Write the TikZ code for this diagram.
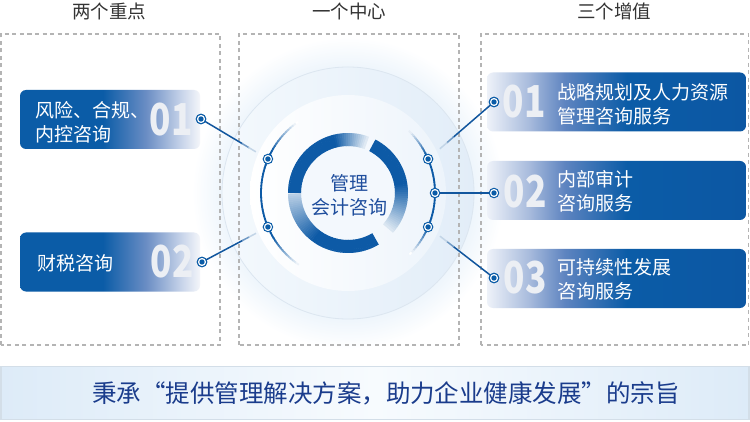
\documentclass[tikz,border=0pt]{standalone}
\usepackage{fontspec}
\setmainfont{Noto Sans CJK SC}
\usetikzlibrary{calc}
\definecolor{cB}{HTML}{0B5CA7}
\definecolor{cRing}{HTML}{0D5AA6}
\definecolor{cLine}{HTML}{11569E}
\definecolor{cMidL}{HTML}{6A8DC4}
\definecolor{cLiteL}{HTML}{C9D5EA}
\definecolor{cEnd}{HTML}{F4F6FA}
\definecolor{cR1}{HTML}{EEF2F9}
\definecolor{cR2}{HTML}{A9BCDD}
\definecolor{cR3}{HTML}{5E84C0}
\definecolor{cR4}{HTML}{0C57A3}
\definecolor{numc}{HTML}{ECEFF4}
\definecolor{glowc}{HTML}{EAF3FB}
\definecolor{diskL}{HTML}{F4F9FD}
\definecolor{diskR}{HTML}{E2EDF8}
\definecolor{thinc}{HTML}{DCE6F0}
\definecolor{innerR}{HTML}{EDF4FB}
\definecolor{coreC}{HTML}{F3F8FD}
\definecolor{ctext}{HTML}{1F4E9D}
\definecolor{btext}{HTML}{1A3C8C}
\definecolor{bedge}{HTML}{DDEBF8}
\definecolor{bmid}{HTML}{F7FBFE}
\definecolor{bborder}{HTML}{D3DEE8}
\definecolor{headc}{HTML}{333333}
\definecolor{dashc}{HTML}{B4B4B4}
\pgfdeclarehorizontalshading{cardLsh}{100bp}{color(0bp)=(cB); color(25bp)=(cB); color(48bp)=(cB); color(60bp)=(cMidL); color(70bp)=(cLiteL); color(75bp)=(cEnd); color(100bp)=(cEnd)}
\pgfdeclarehorizontalshading{cardRsh}{100bp}{color(0bp)=(cR1); color(25bp)=(cR1); color(33bp)=(cR2); color(40bp)=(cR3); color(52bp)=(cB); color(75bp)=(cR4); color(100bp)=(cR4)}
\pgfdeclarehorizontalshading{bannersh}{100bp}{color(0bp)=(bedge); color(25bp)=(bedge); color(50bp)=(bmid); color(75bp)=(bedge); color(100bp)=(bedge)}
\pgfdeclareradialshading{glowsh}{\pgfpoint{0bp}{0bp}}{color(0bp)=(glowc); color(19bp)=(glowc); color(25bp)=(white)}
\newcommand{\fadeline}[2]{%
  \draw[conn] (#1.center) -- ($(#1.center)!0.62!(#2.center)$);
  \draw[conn, draw=cLine!60!white] ($(#1.center)!0.61!(#2.center)$) -- ($(#1.center)!0.72!(#2.center)$);
  \draw[conn, draw=cLine!25!white] ($(#1.center)!0.71!(#2.center)$) -- ($(#1.center)!0.82!(#2.center)$);
}
\begin{document}
\begin{tikzpicture}[x=1pt,y=1pt,
  dashbox/.style={draw=dashc, line width=1.2pt, dash pattern=on 4pt off 3.5pt},
  cardL/.style={shade, shading=cardLsh, rounded corners=6pt, minimum width=180pt, minimum height=59pt, inner sep=0pt},
  cardR/.style={shade, shading=cardRsh, rounded corners=6pt, minimum width=259pt, minimum height=59pt, inner sep=0pt},
  cardtxt/.style={text=white, font=\fontsize{19}{24}\selectfont, align=left, anchor=west, inner sep=0pt},
  numtxt/.style={text=numc, font=\fontsize{44}{44}\selectfont\bfseries, inner sep=0pt},
  head/.style={text=headc, font=\fontsize{18.5}{22}\selectfont, inner sep=0pt},
  dot/.style={circle, draw=cB, line width=1pt, fill=white, minimum size=9.5pt, inner sep=0pt,
    path picture={\fill[cB] (path picture bounding box.center) circle (2.7pt);}},
  conn/.style={draw=cLine, line width=1.5pt}]
\useasboundingbox (0,0) rectangle (750,421);
\fill[white] (0,0) rectangle (750,421);
\coordinate (C) at (348,228);
% glow layers
\shade[shading=glowsh] (C) circle (156);
\shade[left color=diskL, right color=diskR] (C) circle (126);
\draw[thinc, line width=0.8pt] (C) circle (126);
\shade[left color=white, right color=innerR] (C) circle (98);
\fill[coreC] (C) circle (47);
% dashed boxes
\draw[dashbox] (1,76) rectangle (220,387);
\draw[dashbox] (239,76) rectangle (459,387);
\draw[dashbox] (481,76) rectangle (748.5,387);
% headings
\node[head] (h1) at (109,410) {两个重点};
\node[head] (h2) at (349,410) {一个中心};
\node[head] (h3) at (614,410) {三个增值};
% thick ring
\foreach \a in {180,178,...,72}{
  \pgfmathsetmacro\p{\a>=105 ? 100 : max(8,8+92*(\a-70)/35)}
  \draw[line width=13pt, draw=cRing!\p!white] (C) ++(\a:53.5) arc[start angle=\a, end angle=\a-2.6, radius=53.5];
}
\foreach \a in {63,61,...,-40}{
  \pgfmathsetmacro\p{\a>=10 ? 100 : max(10,10+90*(\a+42)/52)}
  \draw[line width=13pt, draw=cRing!\p!white] (C) ++(\a:53.5) arc[start angle=\a, end angle=\a-2.6, radius=53.5];
}
\foreach \a in {-59,-61,...,-177}{
  \pgfmathsetmacro\p{\a>=-125 ? 100 : max(25,25+75*(\a+180)/55)}
  \draw[line width=13pt, draw=cRing!\p!white] (C) ++(\a:53.5) arc[start angle=\a, end angle=\a-2.6, radius=53.5];
}
% thin arcs
\foreach \a in {125,127,...,233}{
  \pgfmathsetmacro\p{(\a>=150 && \a<=210) ? 100 : (\a<150 ? max(0,100*(\a-125)/25) : max(0,100*(235-\a)/25))}
  \draw[line width=1.8pt, draw=cRing!\p!white] (C) ++(\a:87) arc[start angle=\a, end angle=\a+2.6, radius=87];
}
\foreach \a in {-45,-43,...,43}{
  \pgfmathsetmacro\p{(\a>=-25 && \a<=25) ? 100 : (\a<-25 ? max(0,100*(\a+45)/20) : max(0,100*(45-\a)/20))}
  \draw[line width=1.8pt, draw=cRing!\p!white] (C) ++(\a:87) arc[start angle=\a, end angle=\a+2.6, radius=87];
}
\node[text=ctext, font=\fontsize{19}{24}\selectfont, align=center, inner sep=0pt] (ct) at (349,226) {管理\\会计咨询};
% cards left
\node[cardL] (L1) at (110,301.5) {};
\node[cardL] (L2) at (110,159) {};
\node[cardtxt] (L1t) at (35,298.5) {风险、合规、\\内控咨询};
\node[cardtxt] (L2t) at (37,158) {财税咨询};
\node[numtxt] (L1n) at (171,301) {\scalebox{0.8}[1]{01}};
\node[numtxt] (L2n) at (172,159) {\scalebox{0.8}[1]{02}};
% cards right
\node[cardR] (R1) at (616.5,319) {};
\node[cardR] (R2) at (616.5,230.5) {};
\node[cardR] (R3) at (616.5,142.5) {};
\node[numtxt] (R1n) at (524,319) {\scalebox{0.8}[1]{01}};
\node[numtxt] (R2n) at (525,229) {\scalebox{0.8}[1]{02}};
\node[numtxt] (R3n) at (525,143) {\scalebox{0.8}[1]{03}};
\node[cardtxt] (R1t) at (557,317) {战略规划及人力资源\\管理咨询服务};
\node[cardtxt] (R2t) at (557,229.5) {内部审计\\咨询服务};
\node[cardtxt] (R3t) at (557,141.5) {可持续性发展\\咨询服务};
% dots
\node[dot] (Ld1) at (201,302) {};
\node[dot] (Ld2) at (202,159) {};
\node[dot] (Rd1) at (494,319) {};
\node[dot] (Rd2) at (494,228) {};
\node[dot] (Rd3) at (494,143) {};
\node[dot] (c1) at ($(C)+(157:87)$) {};
\node[dot] (c2) at ($(C)+(203:87)$) {};
\node[dot] (c3) at ($(C)+(23:87)$) {};
\node[dot] (c4) at ($(C)+(0:87)$) {};
\node[dot] (c5) at ($(C)+(-23:87)$) {};
% connectors
\fadeline{Ld1}{c1}
\fadeline{Ld2}{c2}
\fadeline{Rd1}{c3}
\fadeline{Rd3}{c5}
\draw[conn] (c4) -- (Rd2);
\node[dot] at (Ld1) {};
\node[dot] at (Ld2) {};
\node[dot] at (Rd1) {};
\node[dot] at (Rd3) {};
% banner
\node[shade, shading=bannersh, draw=bborder, line width=1.5pt, minimum width=748pt, minimum height=53pt, inner sep=0pt] (B) at (375,28) {};
\node[text=btext, font=\fontsize{24.5}{27}\selectfont, inner sep=0pt] (Bt) at (386,28) {秉承“提供管理解决方案，助力企业健康发展”的宗旨};
\end{tikzpicture}
\end{document}
